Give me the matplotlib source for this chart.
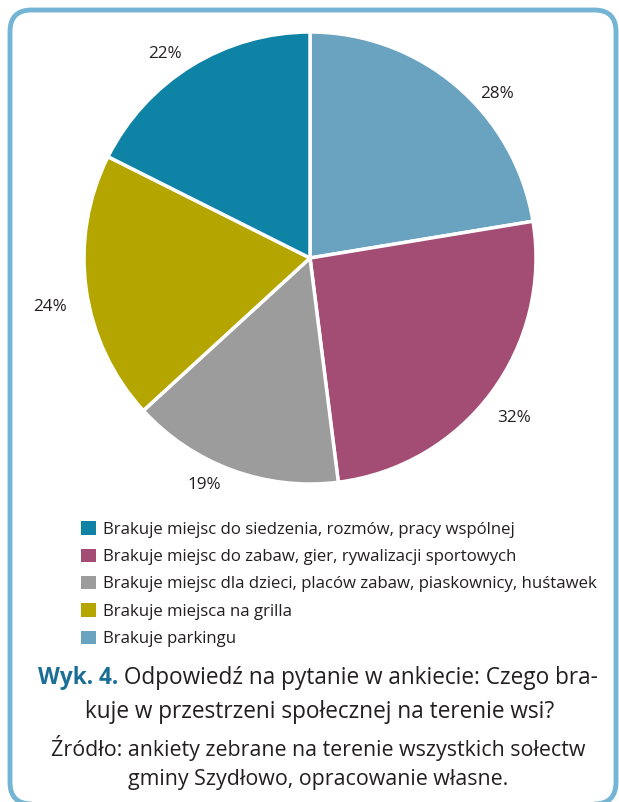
import matplotlib
matplotlib.use("Agg")
import matplotlib.pyplot as plt
from matplotlib.patches import FancyBboxPatch, Patch
import numpy as np

plt.rcParams['font.family'] = ['Open Sans', 'DejaVu Sans']

# ---- data ----
categories = [
    "Brakuje miejsc do siedzenia, rozmów, pracy wspólnej",
    "Brakuje miejsc do zabaw, gier, rywalizacji sportowych",
    "Brakuje miejsc dla dzieci, placów zabaw, piaskownicy, huśtawek",
    "Brakuje miejsca na grilla",
    "Brakuje parkingu",
]
values = [22, 32, 19, 24, 28]
colors = ["#0E83A6", "#A34D74", "#9C9C9C", "#B5A500", "#69A3C0"]
# order of slices clockwise from 12 o'clock
pie_order = [4, 1, 2, 3, 0]
# label placement tweaks (per slice in pie order): angle shift (deg), radius
label_shift = [-8.4, -1.4, -4.9, 2.7, 3.7]
label_radius = [1.10, 1.146, 1.108, 1.17, 1.106]

W, H = 619, 802
fig = plt.figure(figsize=(W / 100, H / 100), dpi=100)

def fx(px):
    return px / W

def fy(py):
    return 1 - py / H

# frame
frame = FancyBboxPatch((fx(10), fy(804)), fx(616) - fx(10), fy(10) - fy(804),
                       boxstyle="round,pad=0,rounding_size=0.035",
                       transform=fig.transFigure, fill=False,
                       edgecolor="#74B5D5", linewidth=3.5, clip_on=False,
                       mutation_aspect=W / H)
fig.patches.append(frame)

# pie axes
cx, cy, R = 310, 258, 226
ax = fig.add_axes([fx(cx - R), fy(cy + R), 2 * R / W, 2 * R / H])
vals = [values[i] for i in pie_order]
cols = [colors[i] for i in pie_order]
wedges, _ = ax.pie(vals, colors=cols, startangle=90, counterclock=False,
                   wedgeprops=dict(edgecolor="white", linewidth=2.5))
ax.set_xlim(-1, 1)
ax.set_ylim(-1, 1)
ax.set_aspect('equal')
ax.axis('off')

for w, v, sh, r in zip(wedges, vals, label_shift, label_radius):
    mid = np.deg2rad((w.theta1 + w.theta2) / 2 + sh)
    ax.text(r * np.cos(mid), r * np.sin(mid), f"{v}%", ha='center', va='center',
            fontsize=12.3, color="#231F20", clip_on=False)

# legend
handles = [Patch(facecolor=c, edgecolor='none') for c in colors]
leg = fig.legend(handles, categories, loc='upper left',
                 bbox_to_anchor=(fx(73), fy(513)), frameon=False,
                 fontsize=12.1, handlelength=0.85, handleheight=0.85,
                 handletextpad=0.42, labelspacing=0.64, borderpad=0,
                 labelcolor="#231F20")

# caption
fig.canvas.draw()
renderer = fig.canvas.get_renderer()
title_size = 16.3
src_size = 15.4
t1 = fig.text(0, fy(678), "Wyk. 4.", fontsize=title_size, fontweight='bold',
              color="#1A6E96", va='center', ha='left')
t2 = fig.text(0, fy(678), " Odpowiedź na pytanie w ankiecie: Czego bra-",
              fontsize=title_size, color="#231F20", va='center', ha='left')
w1 = t1.get_window_extent(renderer).width
w2 = t2.get_window_extent(renderer).width
start = 318 - (w1 + w2) / 2
t1.set_x(fx(start))
t2.set_x(fx(start + w1))

fig.text(fx(320), fy(712), "kuje w przestrzeni społecznej na terenie wsi?",
         fontsize=title_size, color="#231F20", ha='center', va='center')
fig.text(fx(318), fy(748), "Źródło: ankiety zebrane na terenie wszystkich sołectw",
         fontsize=src_size, color="#231F20", ha='center', va='center')
fig.text(fx(318), fy(780), "gminy Szydłowo, opracowanie własne.",
         fontsize=src_size, color="#231F20", ha='center', va='center')

fig.savefig("out.png", dpi=100, facecolor="white")
